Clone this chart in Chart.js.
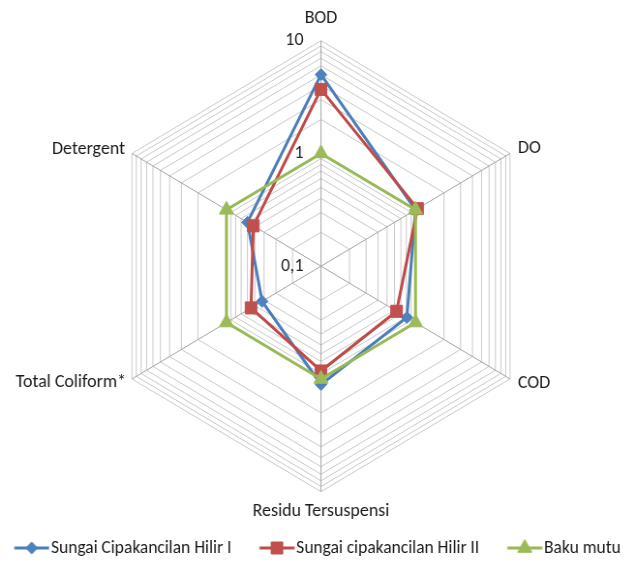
<!DOCTYPE html>
<html>
<head>
<meta charset="utf-8">
<script src="https://cdn.jsdelivr.net/npm/chart.js@4/dist/chart.umd.min.js"></script>
<style>
  html, body { margin: 0; padding: 0; background: #ffffff; }
  canvas { display: block; }
</style>
</head>
<body>
<canvas id="radar" width="656" height="565" style="width:635px;height:565px"></canvas>
<script>
// Parameters on the spokes, clockwise from the top
const parameters = ['BOD', 'DO', 'COD', 'Residu Tersuspensi', 'Total Coliform*', 'Detergent'];

// Measured values per river segment (logarithmic radial scale)
const hilirI  = [5.0, 1.0, 0.81, 1.12, 0.42, 0.60];
const hilirII = [3.7, 1.05, 0.63, 0.85, 0.55, 0.52];
const bakuMutu = [1, 1, 1, 1, 1, 1];

// Rings of the log scale and the ones that carry a label
const ringValues = [0.1, 0.2, 0.3, 0.4, 0.5, 0.6, 0.7, 0.8, 0.9,
                    1, 2, 3, 4, 5, 6, 7, 8, 9, 10];
const labelledRings = [0.1, 1, 10];

const seriesNames = ['Sungai Cipakancilan Hilir I', 'Sungai cipakancilan Hilir II', 'Baku mutu'];

const FONT_FAMILY = 'Carlito, Lato, "Liberation Sans", sans-serif';

// Radial scale with logarithmic spacing of the rings
class RadialLogarithmicScale extends Chart.RadialLinearScale {
  buildTicks() {
    return ringValues.filter(v => v >= this.min && v <= this.max).map(v => ({ value: v }));
  }
  getDistanceFromCenterForValue(value) {
    if (value === null || isNaN(value) || value <= 0) return 0;
    const lo = Math.log10(this.min), hi = Math.log10(this.max);
    const factor = this.drawingArea / (hi - lo);
    const v = Math.log10(value);
    return this.options.reverse ? (hi - v) * factor : (v - lo) * factor;
  }
  getValueForDistanceFromCenter(distance) {
    const lo = Math.log10(this.min), hi = Math.log10(this.max);
    const t = distance / this.drawingArea;
    return Math.pow(10, this.options.reverse ? hi - t * (hi - lo) : lo + t * (hi - lo));
  }
  setCenterPoint(l, r, t, b) {
    const g = this.options.geometry;
    if (g) {
      this.xCenter = g.x;
      this.yCenter = g.y;
      this.drawingArea = g.radius;
      return;
    }
    super.setCenterPoint(l, r, t, b);
  }
  // ring values written beside the vertical spoke
  drawLabels() {
    const lab = this.options.ringLabels;
    if (!lab) return;
    const ctx = this.ctx;
    ctx.save();
    ctx.font = `${lab.size}px ${lab.family}`;
    ctx.fillStyle = lab.color;
    ctx.textAlign = 'right';
    ctx.textBaseline = 'middle';
    this.ticks.forEach(tick => {
      if (!tick.label) return;
      const d = this.getDistanceFromCenterForValue(tick.value);
      ctx.fillText(tick.label, this.xCenter - lab.gap, this.yCenter - d);
    });
    ctx.restore();
  }
}
RadialLogarithmicScale.id = 'radialLogarithmic';
Chart.register(RadialLogarithmicScale);

const styles = [
  { line: '#4A7EBB', marker: '#4F81BD', shape: 'rectRot', radius: 6 },
  { line: '#BE4B48', marker: '#C0504D', shape: 'rect', radius: 8.5 },
  { line: '#98B954', marker: '#9BBB59', shape: 'triangle', radius: 8.5 }
];

// legend symbol: short line with the marker in the middle
function legendSymbol(st) {
  const c = document.createElement('canvas');
  c.width = 44; c.height = 18;
  const g = c.getContext('2d');
  const y = 9, x0 = 7.5, x1 = 43.5, xm = (x0 + x1) / 2;
  g.strokeStyle = st.line; g.lineWidth = 3;
  g.beginPath(); g.moveTo(x0, y); g.lineTo(x1, y); g.stroke();
  g.fillStyle = st.marker; g.strokeStyle = st.marker; g.lineWidth = 1;
  g.beginPath();
  const r = st.radius;
  if (st.shape === 'rectRot') {
    g.moveTo(xm - r, y); g.lineTo(xm, y - r); g.lineTo(xm + r, y); g.lineTo(xm, y + r);
  } else if (st.shape === 'rect') {
    const s = r * Math.SQRT1_2;
    g.rect(xm - s, y - s, 2 * s, 2 * s);
  } else {
    g.moveTo(xm, y - r);
    g.lineTo(xm + r * Math.sin(Math.PI / 3), y + r * 0.5);
    g.lineTo(xm - r * Math.sin(Math.PI / 3), y + r * 0.5);
  }
  g.closePath(); g.fill(); g.stroke();
  return c;
}

const seriesValues = [hilirI, hilirII, bakuMutu];
const drawOrder = [2, 1, 0];

const datasets = seriesValues.map((vals, i) => ({
  label: seriesNames[i],
  data: vals,
  order: drawOrder[i],
  borderColor: styles[i].line,
  backgroundColor: styles[i].marker,
  borderWidth: 3,
  borderJoinStyle: 'round',
  fill: false,
  pointStyle: styles[i].shape,
  pointRadius: styles[i].radius,
  pointHoverRadius: styles[i].radius,
  pointBackgroundColor: styles[i].marker,
  pointBorderColor: styles[i].marker,
  pointBorderWidth: 1
}));

// distance of each spoke caption from the outer ring
const captionGap = [22.7, 9.5, 9.5, 19.8, 7, 8.3];

new Chart(document.getElementById('radar'), {
  type: 'radar',
  data: { labels: parameters, datasets },
  options: {
    responsive: false,
    devicePixelRatio: 1,
    animation: false,
    layout: { padding: { left: -25, right: -25, bottom: -2 } },
    scales: {
      r: {
        type: 'radialLogarithmic',
        min: 0.1,
        max: 10,
        geometry: { x: 331.6, y: 266.2, radius: 225.5 },
        ringLabels: { size: 18.5, family: FONT_FAMILY, color: '#262626', gap: 18 },
        angleLines: { color: '#A3A3A3', lineWidth: 1 },
        grid: { color: '#C9C9C9', lineWidth: 1 },
        ticks: {
          display: false,
          callback: v => labelledRings.includes(v) ? String(v).replace('.', ',') : ''
        },
        pointLabels: {
          color: '#1A1A1A',
          font: { family: FONT_FAMILY, size: 18.5, lineHeight: 0.01 },
          padding: ctx => captionGap[ctx.index]
        }
      }
    },
    plugins: {
      tooltip: { enabled: false },
      legend: {
        position: 'bottom',
        labels: {
          usePointStyle: true,
          pointStyleWidth: 29,
          padding: 29,
          color: '#1A1A1A',
          font: { family: FONT_FAMILY, size: 18 },
          generateLabels: chart => chart.data.datasets.map((ds, i) => ({
            text: ds.label,
            datasetIndex: i,
            pointStyle: legendSymbol(styles[i]),
            fillStyle: styles[i].marker,
            strokeStyle: styles[i].line,
            lineWidth: 0,
            fontColor: '#1A1A1A',
            hidden: false
          }))
        }
      }
    }
  }
});
</script>
</body>
</html>
